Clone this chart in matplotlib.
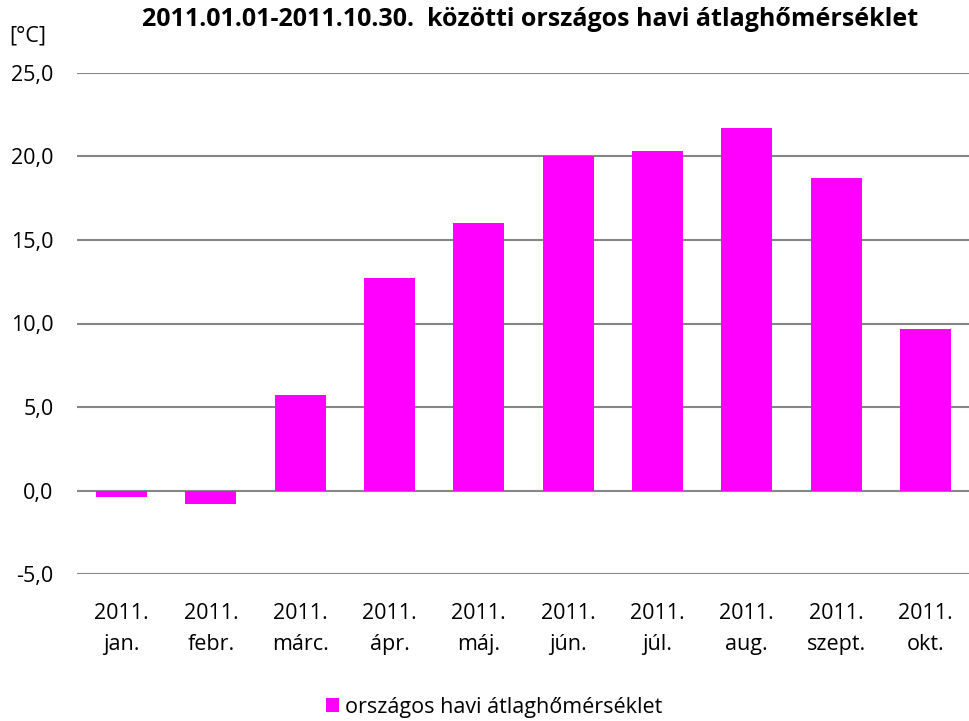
import matplotlib
matplotlib.use('Agg')
import matplotlib.pyplot as plt
from matplotlib.ticker import FuncFormatter, MultipleLocator

months = ['2011.\njan.', '2011.\nfebr.', '2011.\nmárc.', '2011.\nápr.', '2011.\nmáj.',
          '2011.\njún.', '2011.\njúl.', '2011.\naug.', '2011.\nszept.', '2011.\nokt.']
temps = [-0.4, -0.8, 5.7, 12.7, 16.0, 20.0, 20.3, 21.7, 18.7, 9.7]
series_name = 'országos havi átlaghőmérséklet'
title = '2011.01.01-2011.10.30.  közötti országos havi átlaghőmérséklet'

plt.rcParams['font.family'] = ['Open Sans', 'DejaVu Sans']
fs = 15.5

fig = plt.figure(figsize=(9.7, 7.21), dpi=100)
ax = fig.add_axes([77/970, 1 - 574.3/721, 1 - 77/970, (574.3 - 72.7)/721])

idx = range(len(months))
ax.bar(idx, temps, width=0.57, color='#FF00FF', zorder=2, label=series_name)

ax.set_ylim(-5, 25)
ax.set_xlim(-0.5, len(months) - 0.5)
ax.yaxis.set_major_locator(MultipleLocator(5))
ax.yaxis.set_major_formatter(FuncFormatter(lambda v, p: ('%.1f' % v).replace('.', ',')))
ax.yaxis.grid(True, color='#868686', linewidth=1.5, zorder=1)
ax.set_axisbelow(True)
for s in ax.spines.values():
    s.set_visible(False)
ax.tick_params(axis='both', length=0, labelsize=fs)
ax.tick_params(axis='y', pad=17)
ax.tick_params(axis='x', pad=21)
ax.set_xticks(list(idx))
ax.set_xticklabels(months, linespacing=1.6)

fig.text(9/970, 1 - 36/721, '[°C]', fontsize=fs, va='center', ha='left')
fig.text(530/970, 1 - 19/721, title, fontsize=18, fontweight='bold', ha='center', va='center')

fig.legend(loc='center', bbox_to_anchor=(494/970, 1 - 707/721), frameon=False,
           fontsize=fs, handlelength=0.6, handleheight=0.6, handletextpad=0.3)

fig.savefig('out.png', dpi=100)
